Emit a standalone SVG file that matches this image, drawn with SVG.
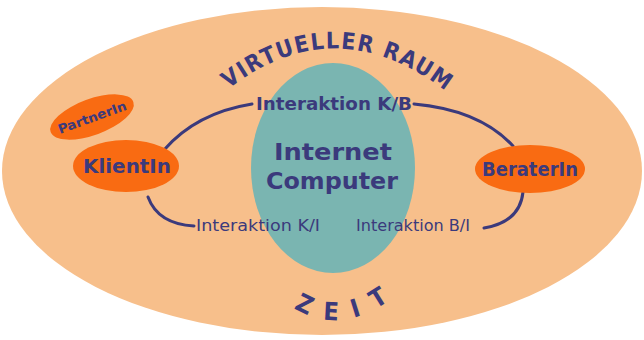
<svg xmlns="http://www.w3.org/2000/svg" width="644" height="340" viewBox="0 0 644 340">
  <style>
    .lbl { font-family: "Comic Sans MS", "DejaVu Sans Condensed", "DejaVu Sans", sans-serif; fill: #3b3a7c; }
    .node { fill: #f96b12; }
    .link { fill: none; stroke: #3b3a7c; stroke-width: 3; stroke-linecap: round; }
  </style>
  <defs>
    <path id="arcTop" d="M 222 94 Q 335 2 452 96"/>
    <path id="arcBottom" d="M 282 300 Q 338 344 400 292"/>
  </defs>
  <rect width="644" height="340" fill="#ffffff"/>

  <!-- virtual space -->
  <g id="raum">
    <ellipse cx="322" cy="171" rx="320" ry="164" fill="#f7bf8b"/>
    <text class="lbl" font-size="23" font-weight="bold" text-anchor="middle">
      <textPath href="#arcTop" startOffset="50%" textLength="236" lengthAdjust="spacing">VIRTUELLER RAUM</textPath>
    </text>
    <text class="lbl" font-size="25" font-weight="bold" text-anchor="middle">
      <textPath href="#arcBottom" startOffset="50%" textLength="102" lengthAdjust="spacing">ZEIT</textPath>
    </text>
  </g>

  <!-- internet / computer -->
  <g id="internet">
    <ellipse cx="333" cy="168" rx="82" ry="105" fill="#7ab5b1"/>
    <text class="lbl" x="333" y="160" font-size="23" font-weight="bold" text-anchor="middle" textLength="118" lengthAdjust="spacingAndGlyphs">Internet</text>
    <text class="lbl" x="332" y="189" font-size="23" font-weight="bold" text-anchor="middle" textLength="132" lengthAdjust="spacingAndGlyphs">Computer</text>
  </g>

  <!-- connectors -->
  <g id="connectors">
    <path class="link" d="M 164 150 Q 196 113 252 104"/>
    <path class="link" d="M 414 104 Q 480 110 513 146"/>
    <path class="link" d="M 148 197 Q 158 224 194 226"/>
    <path class="link" d="M 523 192 Q 520 222 484 228"/>
    <text class="lbl" x="334" y="110" font-size="18" font-weight="bold" text-anchor="middle" textLength="156" lengthAdjust="spacingAndGlyphs">Interaktion K/B</text>
    <text class="lbl" x="258" y="231" font-size="15" text-anchor="middle" textLength="124" lengthAdjust="spacingAndGlyphs">Interaktion K/I</text>
    <text class="lbl" x="413" y="231" font-size="15" text-anchor="middle" textLength="114" lengthAdjust="spacingAndGlyphs">Interaktion B/I</text>
  </g>

  <g id="partnerin">
    <ellipse class="node" cx="92" cy="117" rx="44" ry="18" transform="rotate(-20 92 117)"/>
    <text class="lbl" x="92" y="122" font-size="13" font-weight="bold" text-anchor="middle" transform="rotate(-20 92 117)" textLength="72" lengthAdjust="spacingAndGlyphs">PartnerIn</text>
  </g>

  <g id="klientin">
    <ellipse class="node" cx="126" cy="166" rx="53" ry="26"/>
    <text class="lbl" x="127" y="173" font-size="20" font-weight="bold" text-anchor="middle" textLength="88" lengthAdjust="spacingAndGlyphs">KlientIn</text>
  </g>

  <g id="beraterin">
    <ellipse class="node" cx="530" cy="169" rx="55" ry="24"/>
    <text class="lbl" x="530" y="176" font-size="19" font-weight="bold" text-anchor="middle" textLength="96" lengthAdjust="spacingAndGlyphs">BeraterIn</text>
  </g>
</svg>
